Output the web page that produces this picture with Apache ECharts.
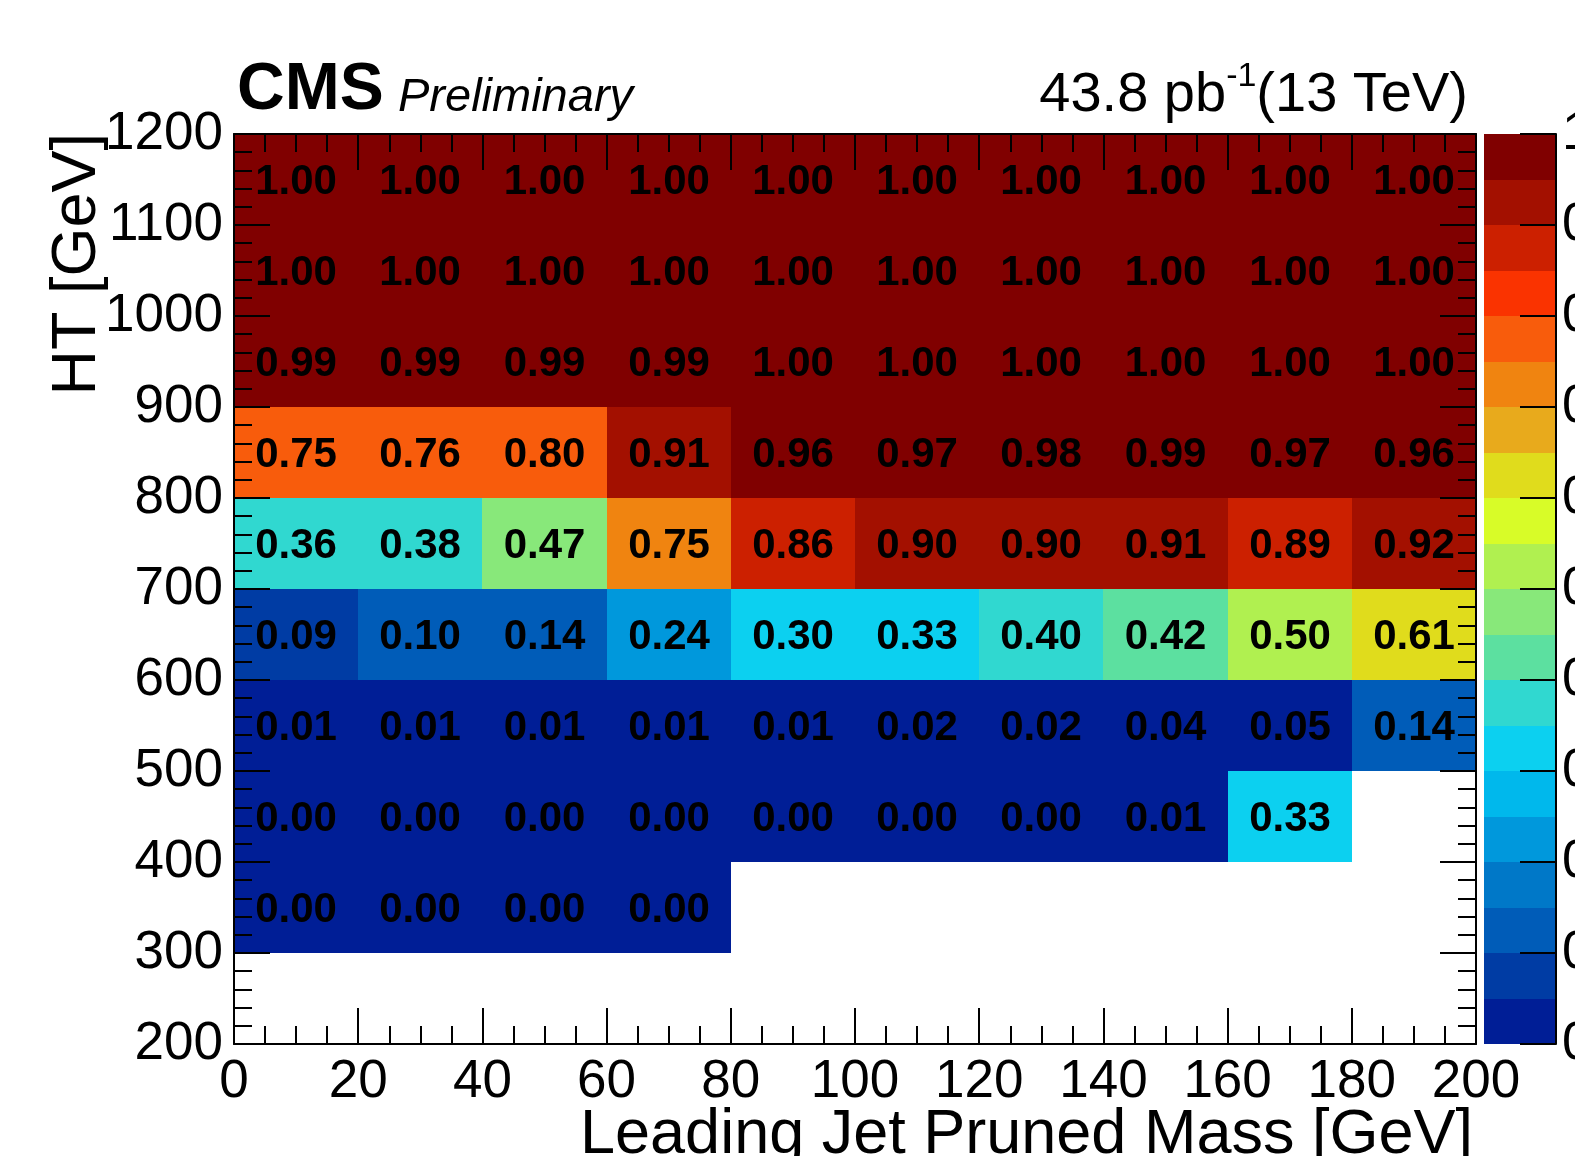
<!DOCTYPE html>
<html>
<head>
<meta charset="utf-8">
<script src="https://cdn.jsdelivr.net/npm/echarts@6/dist/echarts.min.js"></script>
<style>
  html, body { margin: 0; padding: 0; background: #fff; }
  #chart { width: 1575px; height: 1156px; }
</style>
</head>
<body>
<div id="chart"></div>
<script>
// lower bin edges
const massBins = [0, 20, 40, 60, 80, 100, 120, 140, 160, 180]
const massStep = 20
const htBins = [1100, 1000, 900, 800, 700, 600, 500, 400, 300]
const htStep = 100

// trigger efficiency per HT row (null = empty bin)
const eff1100 = [1.00, 1.00, 1.00, 1.00, 1.00, 1.00, 1.00, 1.00, 1.00, 1.00]
const eff1000 = [1.00, 1.00, 1.00, 1.00, 1.00, 1.00, 1.00, 1.00, 1.00, 1.00]
const eff900  = [0.99, 0.99, 0.99, 0.99, 1.00, 1.00, 1.00, 1.00, 1.00, 1.00]
const eff800  = [0.75, 0.76, 0.798, 0.91, 0.96, 0.97, 0.98, 0.99, 0.97, 0.96]
const eff700  = [0.36, 0.38, 0.47, 0.748, 0.86, 0.90, 0.90, 0.91, 0.89, 0.92]
const eff600  = [0.09, 0.10, 0.14, 0.24, 0.30, 0.33, 0.399, 0.42, 0.50, 0.61]
const eff500  = [0.01, 0.01, 0.01, 0.01, 0.01, 0.02, 0.02, 0.04, 0.049, 0.14]
const eff400  = [0.00, 0.00, 0.00, 0.00, 0.00, 0.00, 0.00, 0.01, 0.33, null]
const eff300  = [0.00, 0.00, 0.00, 0.00, null, null, null, null, null, null]
const effRows = [eff1100, eff1000, eff900, eff800, eff700, eff600, eff500, eff400, eff300]

// colour scale (z axis)
const levels = [0, 0.05, 0.10, 0.15, 0.20, 0.25, 0.30, 0.35, 0.40, 0.45, 0.50,
                0.55, 0.60, 0.65, 0.70, 0.75, 0.80, 0.85, 0.90, 0.95, 1.00]
const palette = [
  '#001e96', '#003ca4', '#005cb8', '#0078c8', '#0098dc',
  '#00b8ec', '#0cd0f0', '#30d8d0', '#5ce0a0', '#88e87a',
  '#b0f050', '#d8fc28', '#e0dc1c', '#e8aa1c', '#f08410',
  '#f85c0c', '#fa3300', '#cc2000', '#a31000', '#800000'
]

function colorOf(v) {
  let idx = 0
  for (let i = 0; i < palette.length; i++) {
    if (v >= levels[i]) idx = i
  }
  return palette[idx]
}

let cells = []
htBins.forEach(function (ht, r) {
  massBins.forEach(function (m, c) {
    const v = effRows[r][c]
    if (v !== null) cells.push([m, ht, v])
  })
})

let bands = []
for (let i = 0; i < palette.length; i++) {
  bands.push([levels[i], levels[i + 1], i])
}

const FONT = '"Liberation Sans", Arial, Helvetica, sans-serif'

function plainNum(v) {
  return String(Math.round(v * 100) / 100)
}

function axisCommon(extra) {
  return Object.assign({
    type: 'value',
    z: 10,
    splitLine: { show: false },
    axisLine: { show: true, onZero: false, lineStyle: { color: '#000', width: 2 } },
    axisTick: { show: true, inside: true, length: 36, lineStyle: { color: '#000', width: 2 } },
    minorTick: { show: true, length: 18, lineStyle: { color: '#000', width: 2 } },
    axisLabel: { show: true, color: '#000', fontSize: 53, fontFamily: FONT, formatter: plainNum }
  }, extra)
}

const chart = echarts.init(document.getElementById('chart'))

let option = {
  backgroundColor: '#fff',
  animation: false,
  grid: [
    { left: 234, top: 134, width: 1242, height: 910, outerBoundsMode: 'none', containLabel: false },
    { left: 1484, top: 134, width: 72, height: 910, outerBoundsMode: 'none', containLabel: false }
  ],
  xAxis: [
    axisCommon({ gridIndex: 0, position: 'bottom', min: 0, max: 200, interval: 20,
      minorTick: { show: true, splitNumber: 4, length: 18, lineStyle: { color: '#000', width: 2 } },
      axisLabel: { color: '#000', fontSize: 53, fontFamily: FONT, margin: 12, formatter: plainNum } }),
    axisCommon({ gridIndex: 0, position: 'top', min: 0, max: 200, interval: 20,
      minorTick: { show: true, splitNumber: 4, length: 18, lineStyle: { color: '#000', width: 2 } },
      axisLabel: { show: false } }),
    { gridIndex: 1, type: 'value', min: 0, max: 1, show: false }
  ],
  yAxis: [
    axisCommon({ gridIndex: 0, position: 'left', min: 200, max: 1200, interval: 100,
      minorTick: { show: true, splitNumber: 5, length: 18, lineStyle: { color: '#000', width: 2 } },
      axisLabel: { color: '#000', fontSize: 53, fontFamily: FONT, margin: 11, formatter: plainNum } }),
    axisCommon({ gridIndex: 0, position: 'right', min: 200, max: 1200, interval: 100,
      minorTick: { show: true, splitNumber: 5, length: 18, lineStyle: { color: '#000', width: 2 } },
      axisLabel: { show: false } }),
    axisCommon({ gridIndex: 1, position: 'right', min: 0, max: 1, interval: 0.1,
      minorTick: { show: false },
      axisLabel: { color: '#000', fontSize: 53, fontFamily: FONT, margin: 6, formatter: plainNum } })
  ],
  series: [
    {
      type: 'custom',
      xAxisIndex: 0,
      yAxisIndex: 0,
      data: cells,
      silent: true,
      renderItem: function (params, api) {
        const x0 = api.value(0), y0 = api.value(1), v = api.value(2)
        const p0 = api.coord([x0, y0 + htStep])
        const p1 = api.coord([x0 + massStep, y0])
        const l = Math.round(p0[0]), t = Math.round(p0[1])
        const r = Math.round(p1[0]), b = Math.round(p1[1])
        return {
          type: 'group',
          children: [
            { type: 'rect', shape: { x: l, y: t, width: r - l, height: b - t },
              style: { fill: colorOf(v) } },
            { type: 'text', z2: 5,
              style: { text: v.toFixed(2), x: (l + r) / 2, y: (t + b) / 2 + 3,
                align: 'center', verticalAlign: 'middle',
                font: 'bold 42px ' + FONT, fill: '#000' } }
          ]
        }
      }
    },
    {
      type: 'custom',
      xAxisIndex: 2,
      yAxisIndex: 2,
      data: bands,
      silent: true,
      renderItem: function (params, api) {
        const lo = api.value(0), hi = api.value(1), i = api.value(2)
        const p0 = api.coord([0, hi])
        const p1 = api.coord([1, lo])
        const l = Math.round(p0[0]), t = Math.round(p0[1])
        const r = Math.round(p1[0]), b = Math.round(p1[1])
        return { type: 'rect', shape: { x: l, y: t, width: r - l, height: b - t },
          style: { fill: palette[i] } }
      }
    }
  ],
  graphic: [
    { type: 'text', left: 237, top: 58,
      style: { text: 'CMS', font: 'bold 66px ' + FONT, fill: '#000' } },
    { type: 'text', left: 398, top: 74,
      style: { text: 'Preliminary', font: 'italic 47px ' + FONT, fill: '#000' } },
    { type: 'text', right: 107, top: 60,
      style: {
        text: '{a|43.8 pb}{s|-1}{a|(13 TeV)}',
        rich: {
          a: { fontSize: 56, fontFamily: FONT, color: '#000', lineHeight: 64, verticalAlign: 'bottom' },
          s: { fontSize: 34, fontFamily: FONT, color: '#000', lineHeight: 64, verticalAlign: 'top' }
        }
      } },
    { type: 'text', right: 102, top: 1104,
      style: { text: 'Leading Jet Pruned Mass [GeV]', font: '63px ' + FONT, fill: '#000' } },
    { type: 'text', x: 78, y: 133, rotation: Math.PI / 2,
      style: { text: 'HT [GeV]', font: '63px ' + FONT, fill: '#000',
        align: 'right', verticalAlign: 'middle' } }
  ]
}

chart.setOption(option)
</script>
</body>
</html>
